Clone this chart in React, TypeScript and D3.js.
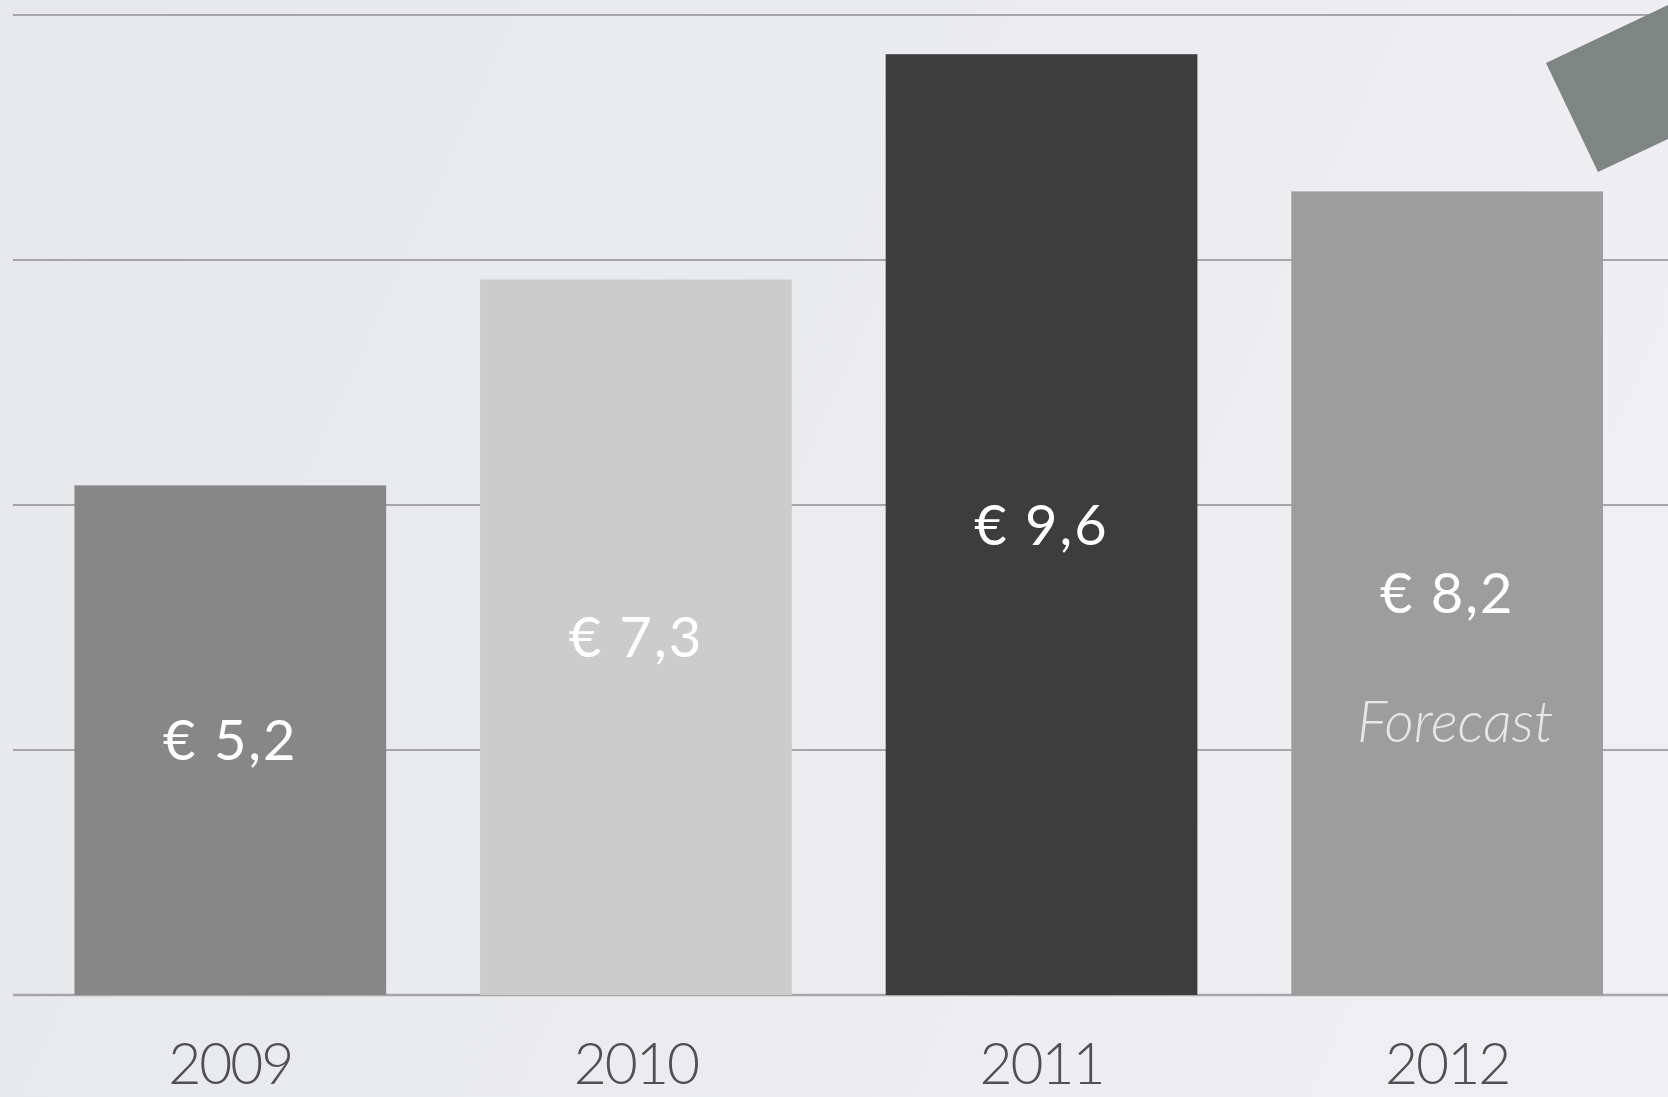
import React from "react";
import * as d3 from "d3";

const years = ["2009", "2010", "2011", "2012"];
const values = [5.2, 7.3, 9.6, 8.2];
const valueLabels = ["€ 5,2", "€ 7,3", "€ 9,6", "€ 8,2"];
const notes = ["", "", "", "Forecast"];
const barColors = ["#868786", "#cbcccb", "#3c3d3c", "#9c9d9c"];
const gridTicks = [0, 2.5, 5, 7.5, 10];

const W = 1668;
const H = 1097;

export default function App() {
  const x = d3
    .scaleBand<string>()
    .domain(years)
    .range([27.5, 1650])
    .paddingInner(0.2315)
    .paddingOuter(0.1158);
  const y = d3.scaleLinear().domain([0, 10]).range([995, 15]);

  const arrow = "M1546,63 L1598,172 L1668,139 L1668,5 Z";

  return (
    <svg
      width={W}
      height={H}
      style={{ position: "fixed", left: 0, top: 0, display: "block" }}
      fontFamily="Lato, 'Open Sans', sans-serif"
    >
      <defs>
        <linearGradient id="bg" x1="0" y1="0" x2="1" y2="0.3">
          <stop offset="0" stopColor="#e6e8eb" />
          <stop offset="0.5" stopColor="#eaebee" />
          <stop offset="1" stopColor="#efeff3" />
        </linearGradient>
      </defs>
      <rect x={0} y={0} width={W} height={H} fill="url(#bg)" />
      {gridTicks.map((t) => (
        <line
          key={t}
          x1={13}
          x2={W}
          y1={y(t)}
          y2={y(t)}
          stroke="#a6a6a6"
          strokeWidth={t === 0 ? 2.5 : 2}
        />
      ))}
      {years.map((yr, i) => {
        const bx = x(yr)!;
        const bw = x.bandwidth();
        const top = y(values[i]);
        const mid = (top + y(0)) / 2;
        return (
          <g key={yr}>
            <rect x={bx} y={top} width={bw} height={y(0) - top} fill={barColors[i]} />
            <text
              x={bx + bw / 2}
              y={mid + 20}
              textAnchor="middle"
              fill="#ffffff"
              fontSize={56}
              letterSpacing={2}
            >
              {valueLabels[i]}
            </text>
            {notes[i] && (
              <text
                x={bx + bw / 2 + 8}
                y={mid + 149}
                textAnchor="middle"
                fill="#e6e6e6"
                fontSize={57}
                fontStyle="italic"
                fontWeight={300}
              >
                {notes[i]}
              </text>
            )}
            <text
              x={bx + bw / 2}
              y={1084}
              textAnchor="middle"
              fill="#505050"
              fontSize={57}
              fontWeight={300}
              letterSpacing={-2}
            >
              {yr}
            </text>
          </g>
        );
      })}
      <path d={arrow} fill="#7f8583" />
    </svg>
  );
}
